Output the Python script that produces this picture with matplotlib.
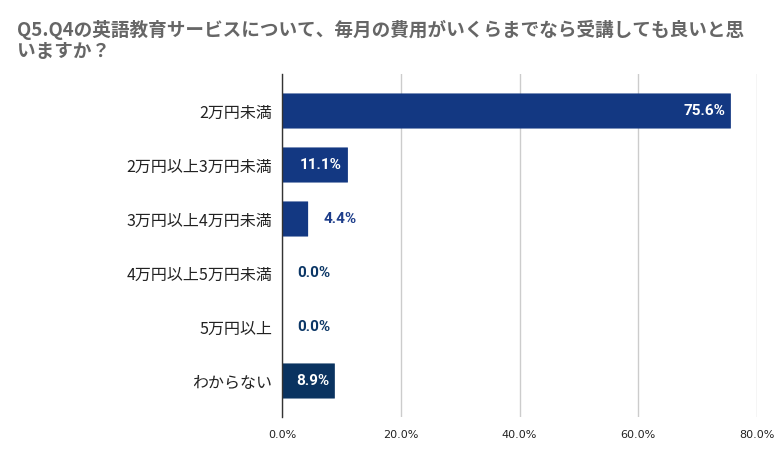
import matplotlib
matplotlib.use("Agg")
import matplotlib.pyplot as plt
from matplotlib.patches import FancyBboxPatch

plt.rcParams['font.family'] = ['Noto Sans CJK JP', 'DejaVu Sans']

categories = ["2万円未満", "2万円以上3万円未満", "3万円以上4万円未満", "4万円以上5万円未満", "5万円以上", "わからない"]
values = [75.6, 11.1, 4.4, 0.0, 0.0, 8.9]
bar_colors = ["#133882", "#133882", "#133882", "#0c3766", "#0c3766", "#0a3360"]
label_colors_out = ["#133882", "#133882", "#1d3d8a", "#0c3766", "#0c3766", "#0a3360"]
xticks = [0, 20, 40, 60, 80]
xticklabels = ["0.0%", "20.0%", "40.0%", "60.0%", "80.0%"]
title = "Q5.Q4の英語教育サービスについて、毎月の費用がいくらまでなら受講しても良いと思\nいますか？"

fig = plt.figure(figsize=(7.81, 4.63), dpi=100)
W, H = 781, 463
ax = fig.add_axes([282 / W, 1 - 417 / H, (757 - 282) / W, (417 - 74) / H])

ypos = list(range(len(categories)))
bh = 0.65
for y, v, c in zip(ypos, values, bar_colors):
    if v > 0:
        p = FancyBboxPatch((0, y - bh / 2), v, bh,
                           boxstyle="round,pad=0,rounding_size=0.05",
                           mutation_aspect=1 / 6,
                           facecolor=c, edgecolor="none", zorder=3)
        ax.add_patch(p)

ax.set_xlim(0, 80)
ax.set_ylim(5.667, -0.685)
ax.set_xticks(xticks)
ax.set_xticklabels(xticklabels, fontsize=8, color="#222222", family=["DejaVu Sans"])
ax.set_yticks(ypos)
ax.set_yticklabels(categories, fontsize=11.5, color="#222222")
ax.tick_params(axis="both", length=0)
ax.tick_params(axis="x", pad=9)
ax.tick_params(axis="y", pad=7)
ax.grid(axis="x", color="#cccccc", linewidth=1, zorder=0)
for s in ["top", "right", "bottom"]:
    ax.spines[s].set_visible(False)
ax.spines["left"].set_color("#333333")
ax.spines["left"].set_linewidth(1)
ax.spines["left"].set_zorder(4)

for y, v, lc in zip(ypos, values, label_colors_out):
    txt = f"{v:.1f}%"
    if v >= 8:
        ax.text(v - 1.0, y, txt, ha="right", va="center", color="white",
                fontsize=11, fontweight="bold", family=["Roboto", "DejaVu Sans"], zorder=5)
    else:
        ax.text(v + 2.6, y, txt, ha="left", va="center", color=lc,
                fontsize=11, fontweight="bold", family=["Roboto", "DejaVu Sans"], zorder=5)

fig.text(17 / W, 1 - 20 / H, title, ha="left", va="top", fontsize=13.4,
         fontweight="bold", color="#666666", linespacing=1.1)

fig.savefig("out.png", dpi=100)
